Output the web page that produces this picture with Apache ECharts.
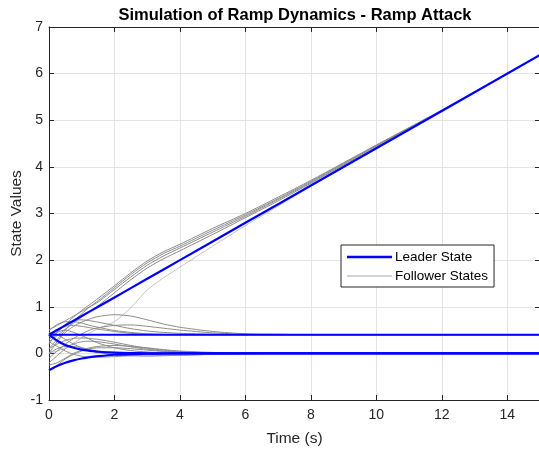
<!DOCTYPE html>
<html>
<head>
<meta charset="utf-8">
<script src="https://cdn.jsdelivr.net/npm/echarts@6/dist/echarts.min.js"></script>
<style>html,body{margin:0;padding:0;background:#fff}#c{width:539px;height:452px}</style>
</head>
<body>
<div id="c"></div>
<script>
var timeS = [0,0.25,0.5,0.75,1,1.25,1.5,2,2.5,3,3.5,4,5,6,7,8,10,12,15];
var xTicks = [0,2,4,6,8,10,12,14];
var yTicks = [-1,0,1,2,3,4,5,6,7];

var leaderRamp  = [0.4,0.5,0.6,0.7,0.8,0.9,1.0,1.2,1.4,1.6,1.8,2.0,2.4,2.8,3.2,3.6,4.4,5.2,6.4];
var leaderConst = [0.4,0.4,0.4,0.4,0.4,0.4,0.4,0.4,0.4,0.4,0.4,0.4,0.4,0.4,0.4,0.4,0.4,0.4,0.4];
var leaderDecay = [0.4,0.27,0.18,0.12,0.08,0.055,0.035,0.015,0.006,0.002,0,0,0,0,0,0,0,0,0];
var leaderRise  = [-0.36,-0.27,-0.2,-0.15,-0.11,-0.08,-0.06,-0.03,-0.015,-0.007,-0.003,0,0,0,0,0,0,0,0];

var followerRamp1 = [0.3,0.45,0.62,0.78,0.92,1.05,1.18,1.45,1.73,1.98,2.18,2.34,2.68,3.0,3.35,3.71,4.47,5.22,6.4];
var followerRamp2 = [0.1,0.3,0.5,0.68,0.85,1.0,1.13,1.41,1.69,1.94,2.14,2.3,2.64,2.97,3.32,3.69,4.46,5.21,6.4];
var followerRamp3 = [0.5,0.6,0.7,0.8,0.9,1.0,1.1,1.37,1.64,1.89,2.09,2.26,2.6,2.94,3.3,3.67,4.45,5.21,6.4];
var followerRamp4 = [0.25,0.38,0.52,0.65,0.78,0.9,1.02,1.3,1.58,1.83,2.03,2.2,2.55,2.91,3.27,3.65,4.43,5.2,6.4];
var followerRamp5 = [0.0,0.05,0.12,0.22,0.33,0.44,0.53,0.68,0.98,1.36,1.62,1.85,2.3,2.74,3.16,3.58,4.4,5.2,6.4];

var followerConst1 = [0.2,0.45,0.62,0.7,0.72,0.7,0.67,0.6,0.53,0.48,0.45,0.43,0.41,0.4,0.4,0.4,0.4,0.4,0.4];
var followerConst2 = [0.0,0.25,0.45,0.58,0.67,0.74,0.79,0.83,0.8,0.72,0.63,0.56,0.47,0.42,0.41,0.4,0.4,0.4,0.4];
var followerConst3 = [0.5,0.62,0.68,0.68,0.65,0.6,0.56,0.49,0.45,0.42,0.41,0.4,0.4,0.4,0.4,0.4,0.4,0.4,0.4];
var followerConst4 = [-0.1,0.05,0.2,0.32,0.42,0.5,0.55,0.6,0.61,0.58,0.54,0.5,0.44,0.41,0.4,0.4,0.4,0.4,0.4];
var followerConst5 = [0.35,0.5,0.58,0.6,0.58,0.55,0.52,0.47,0.43,0.41,0.4,0.4,0.4,0.4,0.4,0.4,0.4,0.4,0.4];

var followerZero1 = [0.3,0.45,0.5,0.45,0.38,0.3,0.22,0.12,0.06,0.03,0.01,0,0,0,0,0,0,0,0];
var followerZero2 = [-0.2,-0.05,0.1,0.2,0.25,0.26,0.25,0.2,0.14,0.09,0.05,0.03,0.01,0,0,0,0,0,0];
var followerZero3 = [0.1,0.2,0.28,0.32,0.33,0.32,0.3,0.24,0.17,0.11,0.07,0.04,0.01,0,0,0,0,0,0];
var followerZero4 = [-0.35,-0.25,-0.12,-0.02,0.05,0.1,0.12,0.12,0.1,0.07,0.04,0.02,0.01,0,0,0,0,0,0];
var followerZero5 = [0.45,0.4,0.3,0.2,0.12,0.06,0.02,-0.03,-0.05,-0.06,-0.05,-0.04,-0.02,-0.01,0,0,0,0,0];
var followerZero6 = [0.0,0.1,0.15,0.15,0.12,0.08,0.05,0.02,-0.01,-0.03,-0.04,-0.04,-0.02,-0.01,0,0,0,0,0];
var followerZero7 = [-0.25,-0.2,-0.1,0.0,0.07,0.12,0.15,0.17,0.15,0.12,0.08,0.05,0.02,0.01,0,0,0,0,0];
var followerZero8 = [0.25,0.15,0.05,-0.02,-0.06,-0.08,-0.08,-0.07,-0.05,-0.03,-0.02,-0.01,0,0,0,0,0,0,0];

var leaders = [leaderRamp, leaderConst, leaderDecay, leaderRise];
var followers = [followerRamp1, followerRamp2, followerRamp3, followerRamp4, followerRamp5,
  followerConst1, followerConst2, followerConst3, followerConst4, followerConst5,
  followerZero1, followerZero2, followerZero3, followerZero4, followerZero5, followerZero6, followerZero7, followerZero8];
var lightFollowers = [followerRamp5];
var straightLines = [leaderRamp, leaderConst];

function pairs(arr){ return timeS.map(function(t,i){ return [t, arr[i]]; }); }

var FONT = '"Liberation Sans", Arial, Helvetica, sans-serif';
var AX = '#262626';
var series = [];
followers.forEach(function(f){
  var light = lightFollowers.indexOf(f) >= 0;
  series.push({
    name: 'Follower States', type: 'line', data: pairs(f), smooth: 0.25,
    symbol: 'none', silent: true, animation: false,
    lineStyle: { color: light ? '#c4c4c4' : '#8c8c8c', width: 1 },
    itemStyle: { color: '#a0a0a0' }, z: 2
  });
});
leaders.forEach(function(l){
  series.push({
    name: 'Leader State', type: 'line', data: pairs(l),
    smooth: straightLines.indexOf(l) >= 0 ? false : 0.25,
    symbol: 'none', silent: true, animation: false,
    lineStyle: { color: '#0000ff', width: 2.2 },
    itemStyle: { color: '#0000ff' }, z: 3
  });
});

var chart = echarts.init(document.getElementById('c'), null, { renderer: 'canvas' });
chart.setOption({
  animation: false,
  backgroundColor: '#fff',
  title: {
    text: 'Simulation of Ramp Dynamics - Ramp Attack',
    left: 290, top: 2, textAlign: 'center',
    textStyle: { fontFamily: FONT, fontSize: 16.5, fontWeight: 'bold', color: '#000' }
  },
  legend: {
    data: [
      { name: 'Leader State', icon: 'path://M0,0L45,0L45,2.4L0,2.4Z', itemStyle: { color: '#0000ff' } },
      { name: 'Follower States', icon: 'path://M0,0L45,0L45,1L0,1Z', itemStyle: { color: '#a8a8a8' } }
    ],
    orient: 'vertical', left: 341, top: 245,
    backgroundColor: '#fff', borderColor: AX, borderWidth: 1,
    padding: [5, 6, 4, 6], itemGap: 5, itemWidth: 45, itemHeight: 12,
    textStyle: { fontFamily: FONT, fontSize: 13.5, color: '#000', padding: [0,0,0,-2] },
    selectedMode: false
  },
  grid: { left: 49, right: -1, top: 27, bottom: 52, containLabel: false, outerBoundsMode: 'none' },
  xAxis: [{
    type: 'value', min: 0, max: 15, interval: 2, position: 'bottom',
    name: 'Time (s)', nameLocation: 'middle', nameGap: 31,
    nameTextStyle: { fontFamily: FONT, fontSize: 15.5, color: AX },
    axisLine: { show: true, onZero: false, lineStyle: { color: AX, width: 1 } },
    axisTick: { show: true, inside: true, length: 5, lineStyle: { color: AX } },
    axisLabel: { fontFamily: FONT, fontSize: 14, color: AX, margin: 8, showMaxLabel: false,
      formatter: function(v){ return xTicks.indexOf(v) >= 0 ? String(v) : ''; } },
    splitLine: { show: true, lineStyle: { color: '#e3e3e3', width: 1 } }
  }, {
    type: 'value', min: 0, max: 15, interval: 2, position: 'top',
    axisLine: { show: true, onZero: false, lineStyle: { color: AX, width: 1 } },
    axisTick: { show: true, inside: true, length: 5, lineStyle: { color: AX } },
    axisLabel: { show: false }, splitLine: { show: false }
  }],
  yAxis: [{
    type: 'value', min: -1, max: 7, interval: 1, position: 'left',
    name: 'State Values', nameLocation: 'middle', nameGap: 24, nameRotate: 90, nameMoveOverlap: false,
    nameTextStyle: { fontFamily: FONT, fontSize: 15.5, color: AX },
    axisLine: { show: true, onZero: false, lineStyle: { color: AX, width: 1 } },
    axisTick: { show: true, inside: true, length: 5, lineStyle: { color: AX } },
    axisLabel: { fontFamily: FONT, fontSize: 14, color: AX, margin: 6,
      formatter: function(v){ return yTicks.indexOf(v) >= 0 ? String(v) : ''; } },
    splitLine: { show: true, lineStyle: { color: '#e3e3e3', width: 1 } }
  }, {
    type: 'value', min: -1, max: 7, interval: 1, position: 'right',
    axisLine: { show: true, onZero: false, lineStyle: { color: AX, width: 1 } },
    axisTick: { show: true, inside: true, length: 5, lineStyle: { color: AX } },
    axisLabel: { show: false }, splitLine: { show: false }
  }],
  series: series
});
</script>
</body>
</html>
